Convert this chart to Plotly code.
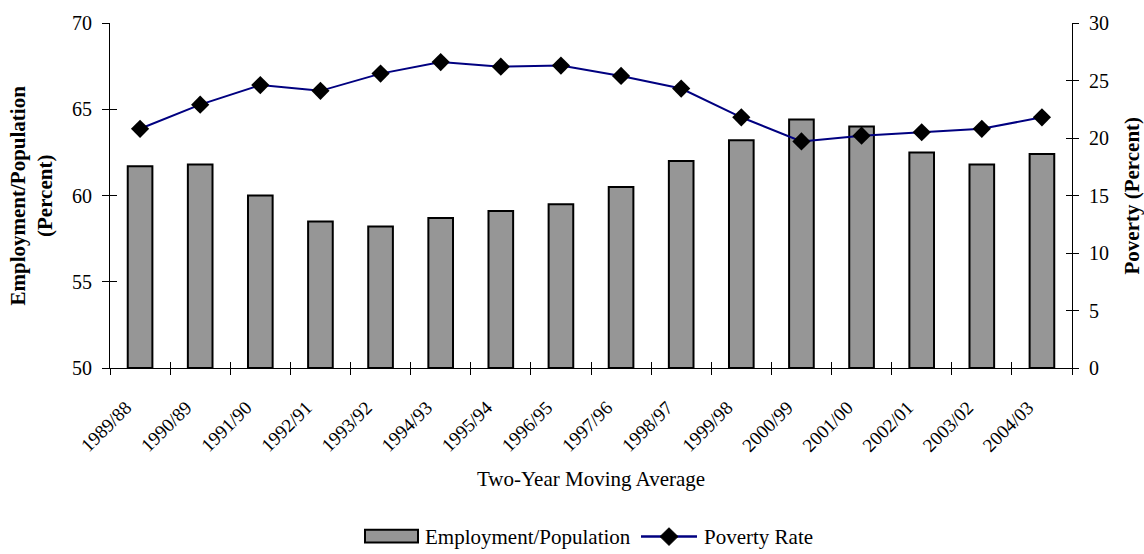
import plotly.graph_objects as go

periods = ["1989/88", "1990/89", "1991/90", "1992/91", "1993/92", "1994/93",
           "1995/94", "1996/95", "1997/96", "1998/97", "1999/98", "2000/99",
           "2001/00", "2002/01", "2003/02", "2004/03"]
employment_pop = [61.7, 61.8, 60.0, 58.5, 58.2, 58.7, 59.1, 59.5, 60.5, 62.0,
                  63.2, 64.4, 64.0, 62.5, 61.8, 62.4]
poverty_rate = [20.8, 22.9, 24.6, 24.1, 25.6, 26.6, 26.2, 26.3, 25.4, 24.3,
                21.8, 19.7, 20.2, 20.5, 20.8, 21.8]

FONT = "Liberation Serif"
BAR_FILL = "#969696"
LINE_COLOR = "#000080"

W, H = 1144, 554
ML, MR, MT, MB = 110, 72, 16, 186
PW, PH = W - ML - MR, H - MT - MB


def px_x(px):
    return (px - ML) / PW


def px_y(py):
    return (H - MB - py) / PH


fig = go.Figure()

fig.add_trace(go.Bar(
    x=periods, y=[v - 50 for v in employment_pop], base=50,
    name="Employment/Population",
    marker=dict(color=BAR_FILL, line=dict(color="black", width=2)),
    width=0.41, xaxis="x", yaxis="y", showlegend=False,
))

fig.add_trace(go.Scatter(
    x=periods, y=poverty_rate, name="Poverty Rate",
    mode="lines+markers",
    line=dict(color=LINE_COLOR, width=2),
    marker=dict(symbol="diamond", size=14, color="black"),
    xaxis="x", yaxis="y2", showlegend=False,
))

# invisible traces that make the overlaid tick-only axes render,
# so every tick crosses its axis line
fig.add_trace(go.Scatter(
    x=periods, y=[50] * len(periods), mode="markers",
    marker=dict(opacity=0), showlegend=False, hoverinfo="skip",
    xaxis="x2", yaxis="y3",
))
fig.add_trace(go.Scatter(
    x=periods, y=[0] * len(periods), mode="markers",
    marker=dict(opacity=0), showlegend=False, hoverinfo="skip",
    xaxis="x2", yaxis="y4",
))

tickfont = dict(family=FONT, size=20, color="black")
xrange = [-0.5, len(periods) - 0.5]

# legend drawn by hand: wide grey swatch and a line-with-diamond sample
leg_y = 540
shapes = [
    dict(type="rect", xref="paper", yref="paper",
         x0=px_x(365), x1=px_x(418), y0=px_y(546), y1=px_y(533),
         fillcolor=BAR_FILL, line=dict(color="black", width=2)),
    dict(type="line", xref="paper", yref="paper",
         x0=px_x(641), x1=px_x(697), y0=px_y(leg_y), y1=px_y(leg_y),
         line=dict(color=LINE_COLOR, width=2.5)),
    dict(type="path", xref="paper", yref="paper",
         path=(f"M {px_x(669)},{px_y(leg_y - 9)} L {px_x(678)},{px_y(leg_y)} "
               f"L {px_x(669)},{px_y(leg_y + 9)} L {px_x(660)},{px_y(leg_y)} Z"),
         fillcolor="black", line=dict(color="black", width=1)),
]

annotations = [
    dict(text="<b>Employment/Population<br>(Percent)</b>", textangle=-90,
         xref="paper", yref="paper", x=px_x(31), y=0.5, xanchor="center",
         yanchor="middle", showarrow=False,
         font=dict(family=FONT, size=21, color="black")),
    dict(text="<b>Poverty (Percent)</b>", textangle=-90,
         xref="paper", yref="paper", x=px_x(1131), y=0.5, xanchor="center",
         yanchor="middle", showarrow=False,
         font=dict(family=FONT, size=21, color="black")),
    dict(text="Two-Year Moving Average", xref="paper", yref="paper",
         x=0.5, y=px_y(481), xanchor="center", yanchor="middle",
         showarrow=False, font=dict(family=FONT, size=21, color="black")),
    dict(text="Employment/Population", xref="paper", yref="paper",
         x=px_x(423), y=px_y(leg_y), xanchor="left", yanchor="middle",
         showarrow=False, font=dict(family=FONT, size=21, color="black")),
    dict(text="Poverty Rate", xref="paper", yref="paper",
         x=px_x(702), y=px_y(leg_y), xanchor="left", yanchor="middle",
         showarrow=False, font=dict(family=FONT, size=21, color="black")),
]

fig.update_layout(
    width=W, height=H,
    margin=dict(l=ML, r=MR, t=MT, b=MB),
    paper_bgcolor="white", plot_bgcolor="white",
    font=dict(family=FONT, color="black"),
    showlegend=False,
    xaxis=dict(
        type="category", range=xrange, tickson="boundaries", ticks="outside",
        ticklen=6, tickcolor="black", tickwidth=1, showline=True,
        linecolor="black", linewidth=1, tickangle=-45,
        tickfont=dict(family=FONT, size=19, color="black"),
        ticklabelstandoff=20, ticklabelshift=-14,
        showgrid=False, zeroline=False,
    ),
    xaxis2=dict(
        type="category", range=xrange, overlaying="x", tickson="boundaries",
        ticks="inside", ticklen=6, tickcolor="black", showticklabels=False,
        showline=False, showgrid=False, zeroline=False, side="bottom",
    ),
    yaxis=dict(
        range=[50, 70], tickvals=[50, 55, 60, 65, 70], ticks="outside",
        ticklen=7, tickcolor="black", showline=True, linecolor="black",
        linewidth=1, tickfont=tickfont, ticklabelstandoff=6,
        showgrid=False, zeroline=False,
    ),
    yaxis2=dict(
        range=[0, 30], tickvals=[0, 5, 10, 15, 20, 25, 30], overlaying="y",
        side="right", ticks="outside", ticklen=6, tickcolor="black",
        showline=True, linecolor="black", linewidth=1, tickfont=tickfont,
        ticklabelstandoff=6, showgrid=False, zeroline=False,
    ),
    yaxis3=dict(
        range=[50, 70], tickvals=[50, 55, 60, 65, 70], overlaying="y",
        side="left", ticks="inside", ticklen=7, tickcolor="black",
        showticklabels=False, showline=False, showgrid=False, zeroline=False,
    ),
    yaxis4=dict(
        range=[0, 30], tickvals=[0, 5, 10, 15, 20, 25, 30], overlaying="y",
        side="right", ticks="inside", ticklen=6, tickcolor="black",
        showticklabels=False, showline=False, showgrid=False, zeroline=False,
    ),
    shapes=shapes,
    annotations=annotations,
)

fig.write_html("out.html")
